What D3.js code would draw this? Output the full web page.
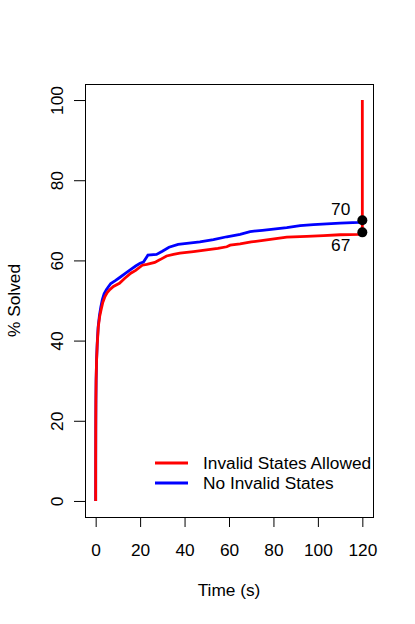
<!DOCTYPE html>
<html>
<head>
<meta charset="utf-8">
<script src="https://cdn.jsdelivr.net/npm/d3@7"></script>
<style>
  body { margin: 0; background: #fff; }
  text { font-family: "Liberation Sans", Arial, sans-serif; fill: #000; }
</style>
</head>
<body>
<div id="chart"></div>
<script>
// cumulative % solved over time
const allowedTime = [0, 0, 0.05, 0.1, 0.2, 0.4, 0.7, 1.2, 1.8, 2.4, 3.2, 4.2, 5.2, 6.2, 8, 10.7, 13, 15.8, 18, 21,
    23, 26.6, 29, 31.9, 35, 37.9, 44, 49.9, 55, 59, 60.5, 65, 70, 77, 86, 95, 102.5, 110, 118.3, 120, 120];
const allowedSolved = [0, 10, 20, 25, 30, 35, 39, 43.5, 46, 47.6, 49.5, 51, 52, 52.6, 53.5, 54.3, 55.5, 56.8, 57.5, 58.8,
    59, 59.5, 60.2, 61.1, 61.5, 61.8, 62.2, 62.6, 63, 63.4, 63.8, 64.1, 64.6, 65.1, 65.8, 66, 66.2, 66.4, 66.5, 67, 100];

const noInvalidTime = [0, 0.05, 0.1, 0.2, 0.4, 0.7, 1.1, 1.7, 2.3, 3, 3.8, 4.8, 5.8, 6.8, 9, 11, 13.5, 16, 18, 20,
    21.5, 23.5, 27.4, 30, 33, 37.1, 42, 46.9, 53, 59, 65, 69.5, 75, 80, 86, 92, 98, 104, 110, 118.3, 120];
const noInvalidSolved = [0, 18, 24, 30, 35, 39.3, 43.3, 46.3, 48.3, 50.2, 51.7, 52.7, 53.5, 54.2, 55, 55.8, 56.8, 57.8, 58.6, 59.3,
    59.6, 61.3, 61.5, 62.3, 63.3, 64, 64.3, 64.6, 65.2, 65.9, 66.5, 67.2, 67.5, 67.8, 68.2, 68.7, 68.9, 69.1, 69.3, 69.5, 70];

const xTicks = [0, 20, 40, 60, 80, 100, 120];
const yTicks = [0, 20, 40, 60, 80, 100];
const finalLabels = [70, 67];
const legendNames = ['Invalid States Allowed', 'No Invalid States'];
const legendColors = ['#ff0000', '#0000ff'];

const width = 415, height = 624;
const fontSize = 17.3;

const svg = d3.select('#chart').append('svg')
    .attr('width', width)
    .attr('height', height);

const x = d3.scaleLinear().domain([-4.8, 124.8]).range([85, 373]);
const y = d3.scaleLinear().domain([-4, 104]).range([517, 84]);

// x axis
const xAxis = svg.append('g')
    .attr('transform', `translate(0,${y.range()[0]})`)
    .call(d3.axisBottom(x).tickValues(xTicks).tickSize(10).tickFormat(d3.format('d')));
xAxis.select('.domain').remove();
xAxis.selectAll('line').attr('stroke', '#000');
xAxis.selectAll('text')
    .attr('y', 39).attr('dy', 0)
    .style('font-size', fontSize + 'px')
    .style('font-family', '"Liberation Sans", Arial, sans-serif')
    .attr('fill', '#000');

// y axis, labels parallel to axis like R's default
const yAxis = svg.append('g')
    .attr('transform', `translate(${x.range()[0]},0)`)
    .call(d3.axisLeft(y).tickValues(yTicks).tickSize(11).tickFormat(d3.format('d')));
yAxis.select('.domain').remove();
yAxis.selectAll('line').attr('stroke', '#000');
yAxis.selectAll('text')
    .attr('x', 0).attr('dy', 0)
    .attr('transform', 'translate(-22,0) rotate(-90)')
    .attr('text-anchor', 'middle')
    .style('font-size', fontSize + 'px')
    .style('font-family', '"Liberation Sans", Arial, sans-serif')
    .attr('fill', '#000');

// box
svg.append('rect')
    .attr('x', x.range()[0] + 0.5)
    .attr('y', y.range()[1] + 0.5)
    .attr('width', x.range()[1] - x.range()[0])
    .attr('height', y.range()[0] - y.range()[1])
    .attr('fill', 'none')
    .attr('stroke', '#000')
    .attr('stroke-width', 1);

// axis titles
svg.append('text')
    .attr('x', (x(0) + x(120)) / 2)
    .attr('y', 596)
    .attr('text-anchor', 'middle')
    .style('font-size', fontSize + 'px')
    .text('Time (s)');

svg.append('text')
    .attr('transform', `translate(20,${(y(0) + y(100)) / 2}) rotate(-90)`)
    .attr('text-anchor', 'middle')
    .style('font-size', fontSize + 'px')
    .text('% Solved');

const line = d3.line()
    .x(d => x(d[0]))
    .y(d => y(d[1]));

svg.append('path')
    .datum(d3.zip(noInvalidTime, noInvalidSolved))
    .attr('d', line)
    .attr('fill', 'none')
    .attr('stroke', legendColors[1])
    .attr('stroke-width', 2.8);

svg.append('path')
    .datum(d3.zip(allowedTime, allowedSolved))
    .attr('d', line)
    .attr('fill', 'none')
    .attr('stroke', legendColors[0])
    .attr('stroke-width', 2.8);

// end points
svg.selectAll('circle.end')
    .data(finalLabels)
    .enter().append('circle')
    .attr('class', 'end')
    .attr('cx', x(120))
    .attr('cy', d => y(d))
    .attr('r', 5)
    .attr('fill', '#000');

svg.selectAll('text.end')
    .data(finalLabels)
    .enter().append('text')
    .attr('class', 'end')
    .attr('x', x(120) - 12)
    .attr('y', (d, i) => i === 0 ? y(d) - 5 : y(d) + 18.5)
    .attr('text-anchor', 'end')
    .style('font-size', fontSize + 'px')
    .text(d => d);

// legend, no box
const legend = svg.append('g');
legendNames.forEach((name, i) => {
    const ly = 463 + i * 20;
    legend.append('line')
        .attr('x1', 155).attr('x2', 188)
        .attr('y1', ly).attr('y2', ly)
        .attr('stroke', legendColors[i])
        .attr('stroke-width', 2.8);
    legend.append('text')
        .attr('x', 203)
        .attr('y', ly + 6)
        .style('font-size', fontSize + 'px')
        .text(name);
});
</script>
</body>
</html>
